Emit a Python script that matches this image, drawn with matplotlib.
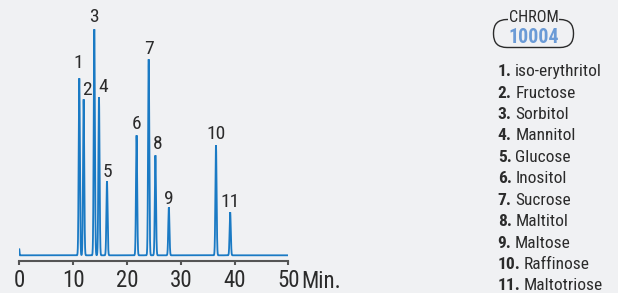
import numpy as np
import matplotlib
matplotlib.use("Agg")
import matplotlib.pyplot as plt
from matplotlib.patches import FancyBboxPatch
from matplotlib.transforms import IdentityTransform

# ---- data ----
peak_labels = ["1", "2", "3", "4", "5", "6", "7", "8", "9", "10", "11"]
peak_times = [11.15, 11.96, 13.94, 14.81, 16.30, 21.80, 24.05, 25.30, 27.80, 36.56, 39.20]
peak_heights = [177, 156, 226, 158, 74, 120, 196, 100, 48, 110, 43]
compound_names = ["iso-erythritol", "Fructose", "Sorbitol", "Mannitol", "Glucose",
                  "Inositol", "Sucrose", "Maltitol", "Maltose", "Raffinose", "Maltotriose"]
x_ticks = [0, 10, 20, 30, 40, 50]
injection_height = 6
badge_title = "CHROM"
badge_number = "10004"

# ---- style ----
BG = "#f0f1f3"
LINE = "#1a7ac4"
TXT = "#2b2b2b"
plt.rcParams["font.family"] = ["Roboto Condensed", "Liberation Sans", "DejaVu Sans"]

W, H = 618, 293
fig = plt.figure(figsize=(W / 100, H / 100), dpi=100, facecolor=BG)

# axes placed in pixel geometry
x0_px, x1_px = 19.3, 288.3
ax_bottom_px, ax_top_px = 261, 8
ax = fig.add_axes([x0_px / W, (H - ax_bottom_px) / H, (x1_px - x0_px) / W,
                   (ax_bottom_px - ax_top_px) / H])
ax.set_facecolor(BG)

# chromatogram trace from the peak table
t = np.linspace(0, 50, 5001)
sigma = 0.11
y = np.zeros_like(t)
for tp, hp in zip(peak_times, peak_heights):
    y += hp * np.exp(-0.5 * ((t - tp) / sigma) ** 2)
y += injection_height * np.exp(-0.5 * (t / 0.04) ** 2)
ax.plot(t, y, color=LINE, lw=1.3, solid_joinstyle="miter")

ax.set_xlim(0, 50)
ax.set_ylim(-5.7, ax_bottom_px - ax_top_px - 5.7)
for s in ["left", "right", "top"]:
    ax.spines[s].set_visible(False)
ax.spines["bottom"].set_color("#555555")
ax.spines["bottom"].set_linewidth(1.5)
ax.set_yticks([])
ax.set_xticks(x_ticks)
ax.set_xticklabels([str(v) for v in x_ticks])
ax.tick_params(axis="x", direction="out", length=3, width=1.5, color="#555555",
               labelsize=16.5, labelcolor=TXT, pad=2.5)
ax.annotate("Min.", xy=(50, 0), xycoords=("data", "axes fraction"),
            xytext=(13.4, -20.7), textcoords="offset pixels", ha="left", va="center",
            fontsize=16.5, color=TXT, annotation_clip=False)

# peak labels (offsets in pixels: dx, dy)
label_offsets = [(-0.6, 15), (3.3, 9.5), (0, 12), (4, 10.7), (0, 9.5), (0, 11.7),
                 (0, 10.3), (2.4, 11.7), (0, 8.5), (0, 11.3), (0, 10)]
for lab, tp, hp, (dx, dy) in zip(peak_labels, peak_times, peak_heights, label_offsets):
    ax.annotate(lab, xy=(tp, hp), xytext=(dx, dy), textcoords="offset pixels",
                ha="center", va="center", fontsize=14, color=TXT)

# legend list
leg_x = 497.7
leg_y0 = 71.7
leg_step = 21.43
for i, (lab, name) in enumerate(zip(peak_labels, compound_names)):
    yy = leg_y0 + i * leg_step
    num = fig.text(leg_x / W, 1 - yy / H, lab + ".", ha="left", va="center",
                   fontsize=12.5, fontweight="bold", color=TXT)
    ax.annotate(name, xy=(1, 0.5), xycoords=num, xytext=(3.5, 0),
                textcoords="offset pixels", ha="left", va="center",
                fontsize=12.5, color=TXT, annotation_clip=False)

# CHROM badge (pixel coordinates, origin bottom-left)
bx0, bx1, by0, by1 = 493.5, 573.5, 19.5, 47.5
badge = FancyBboxPatch((bx0, H - by1), bx1 - bx0, by1 - by0,
                       boxstyle="round,pad=0,rounding_size=13.5",
                       transform=IdentityTransform(), facecolor="none",
                       edgecolor=TXT, lw=1.0)
fig.patches.append(badge)
fig.text(533.7 / W, 1 - 17.5 / H, badge_title, ha="center", va="center",
         fontsize=11.7, color=TXT,
         bbox=dict(facecolor=BG, edgecolor="none", pad=0.3))
fig.text(533.8 / W, 1 - 37.3 / H, badge_number, ha="center", va="center",
         fontsize=14.4, fontweight="bold", color="#6b9bd6")

fig.savefig("out.png", dpi=100, facecolor=BG)
